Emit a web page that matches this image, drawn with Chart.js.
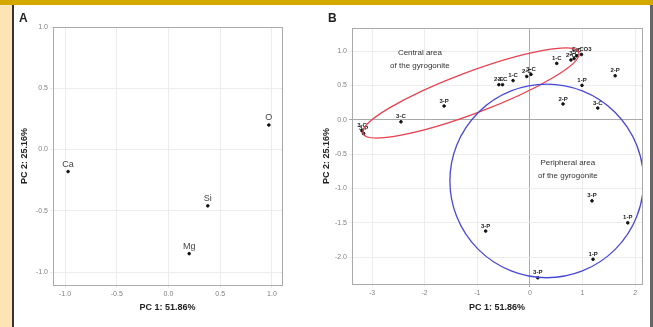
<!DOCTYPE html>
<html>
<head>
<meta charset="utf-8">
<script src="https://cdn.jsdelivr.net/npm/chart.js@4"></script>
<style>
  body { margin: 0; width: 653px; height: 327px; background: #fff; overflow: hidden; position: relative; font-family: "Liberation Sans", Arial, sans-serif; }
  #topbar { position: absolute; left: 0; top: 0; width: 653px; height: 5px; background: #d5a800; }
  #leftbar { position: absolute; left: 0; top: 5px; width: 12px; height: 322px; background: #fde4b4; }
  #leftline { position: absolute; left: 12px; top: 5px; width: 2px; height: 322px; background: #333; }
  #rightline { position: absolute; left: 650px; top: 5px; width: 3px; height: 322px; background: #666; }
  .panel { position: absolute; top: 6px; height: 321px; }
  .letter { position: absolute; font-weight: bold; font-size: 12px; color: #222; }
</style>
</head>
<body>
<div id="topbar"></div>
<div id="leftbar"></div>
<div id="leftline"></div>
<div id="rightline"></div>
<div class="panel" style="left:14px;width:306px;"><canvas id="chartA" width="306" height="321"></canvas></div>
<div class="panel" style="left:320px;width:330px;"><canvas id="chartB" width="330" height="321"></canvas></div>
<div class="letter" style="left:19px;top:11px;">A</div>
<div class="letter" style="left:328px;top:11px;">B</div>
<script>
// パネルA: 元素のローディング
var labelsA = ['O', 'Ca', 'Si', 'Mg'];
var pc1A = [0.97, -0.97, 0.38, 0.20];
var pc2A = [0.20, -0.18, -0.46, -0.85];

// パネルB: サンプルのスコア
var labelsB = ['3-P', '3-C', '3-C', '3-P', '2-C', '3-C', '1-C', '2-C', '3-C', '1-C', '2-C', '3-C', '1-C', 'CaCO3',
               '2-P', '1-P', '2-P', '3-C', '3-P', '1-P', '3-P', '1-P', '3-P'];
var pc1B = [-3.16, -3.19, -2.45, -1.63, -0.59, -0.52, -0.32, -0.06, 0.02, 0.51, 0.78, 0.84, 0.89, 0.98,
            1.62, 0.99, 0.63, 1.29, 1.18, 1.86, -0.84, 1.20, 0.15];
var pc2B = [-0.20, -0.16, -0.03, 0.20, 0.51, 0.51, 0.57, 0.63, 0.66, 0.82, 0.87, 0.89, 0.93, 0.95,
            0.64, 0.50, 0.23, 0.17, -1.18, -1.50, -1.62, -2.03, -2.30];

// 楕円 (中心, 長軸の端, 短軸/長軸比)
var centralArea = { center: [-1.12, 0.39], end: [0.93, 0.98], ratio: 0.18, color: '#e8404e' };
var peripheralArea = { center: [0.32, -0.89], end: [2.16, -0.89], ratio: 1.0, color: '#4848d8' };

var areaTextsB = [
    { x: -2.09, y: 0.98, text: 'Central area' },
    { x: -2.09, y: 0.79, text: 'of the gyrogonite' },
    { x: 0.72, y: -0.63, text: 'Peripheral area' },
    { x: 0.72, y: -0.82, text: 'of the gyrogonite' }
];

function toPoints(xs, ys) {
    return xs.map(function (x, i) { return { x: x, y: ys[i] }; });
}

// ラベルを点の上に書くプラグイン
var pointLabels = {
    id: 'pointLabels',
    afterDatasetsDraw: function (chart, args, opts) {
        var ctx = chart.ctx;
        var labels = chart.data.datasets[0].pointLabels;
        ctx.save();
        ctx.font = opts.font;
        ctx.fillStyle = opts.color;
        ctx.textAlign = 'center';
        ctx.textBaseline = 'bottom';
        chart.getDatasetMeta(0).data.forEach(function (p, i) {
            ctx.fillText(labels[i], p.x, p.y - opts.offset);
        });
        ctx.restore();
    }
};

// プロット領域の枠
var frame = {
    id: 'frame',
    beforeDatasetsDraw: function (chart) {
        var a = chart.chartArea, ctx = chart.ctx;
        ctx.save();
        ctx.strokeStyle = '#aaa';
        ctx.lineWidth = 1;
        ctx.strokeRect(Math.round(a.left) + 0.5, Math.round(a.top) + 0.5, Math.round(a.right - a.left), Math.round(a.bottom - a.top));
        ctx.restore();
    }
};

// 楕円と説明文
var areas = {
    id: 'areas',
    afterDatasetsDraw: function (chart, args, opts) {
        if (!opts.ellipses) return;
        var ctx = chart.ctx, xs = chart.scales.x, ys = chart.scales.y, a = chart.chartArea;
        ctx.save();
        ctx.beginPath();
        ctx.rect(a.left, a.top, a.right - a.left, a.bottom - a.top);
        ctx.clip();
        opts.ellipses.forEach(function (e) {
            var cx = xs.getPixelForValue(e.center[0]), cy = ys.getPixelForValue(e.center[1]);
            var ex = xs.getPixelForValue(e.end[0]), ey = ys.getPixelForValue(e.end[1]);
            var r = Math.hypot(ex - cx, ey - cy);
            ctx.beginPath();
            ctx.ellipse(cx, cy, r, r * e.ratio, Math.atan2(ey - cy, ex - cx), 0, Math.PI * 2);
            ctx.strokeStyle = e.color;
            ctx.lineWidth = 1.3;
            ctx.stroke();
        });
        ctx.font = '8px "Liberation Sans", Arial';
        ctx.fillStyle = '#333';
        ctx.textAlign = 'center';
        ctx.textBaseline = 'middle';
        opts.texts.forEach(function (t) {
            ctx.fillText(t.text, xs.getPixelForValue(t.x), ys.getPixelForValue(t.y));
        });
        ctx.restore();
    }
};

function axis(min, max, step, decimals, title, size, zeroLine, titlePad) {
    var horizontal = size.h !== undefined;
    return {
        type: 'linear',
        min: min,
        max: max,
        border: { color: '#aaa', width: 1 },
        grid: {
            color: function (c) { return zeroLine && c.tick && c.tick.value === 0 ? '#aaa' : '#ececec'; },
            tickLength: 3
        },
        ticks: {
            stepSize: step,
            includeBounds: false,
            padding: 2,
            color: '#808080',
            font: { size: 7, family: '"Liberation Sans", Arial' },
            maxRotation: 0,
            callback: function (v) { return v.toFixed(decimals); }
        },
        title: {
            display: true,
            text: title,
            color: '#222',
            padding: titlePad,
            font: { size: 9, weight: 'bold', family: '"Liberation Sans", Arial' }
        },
        afterFit: function (s) {
            if (horizontal) s.height = size.h; else s.width = size.w;
        }
    };
}

function makeChart(id, data, labels, xAx, yAx, pad, labelOpts, areaOpts) {
    return new Chart(document.getElementById(id), {
        type: 'scatter',
        data: {
            datasets: [{
                data: data,
                pointLabels: labels,
                backgroundColor: '#111',
                borderColor: '#111',
                pointRadius: 1.3,
                pointHoverRadius: 1.3
            }]
        },
        options: {
            responsive: false,
            animation: false,
            layout: { padding: pad },
            scales: { x: xAx, y: yAx },
            plugins: {
                legend: { display: false },
                tooltip: { enabled: false },
                pointLabels: labelOpts,
                areas: areaOpts
            }
        },
        plugins: [frame, pointLabels, areas]
    });
}

makeChart('chartA', toPoints(pc1A, pc2A), labelsA,
    axis(-1.116, 1.097, 0.5, 1, 'PC 1: 51.86%', { h: 28 }, false, 0),
    axis(-1.106, 1.0, 0.5, 1, 'PC 2: 25.16%', { w: 39 }, false, 5),
    { left: 0, top: 21, right: 38, bottom: 14 },
    { font: '9px "Liberation Sans", Arial', color: '#444', offset: 3 },
    {});

makeChart('chartB', toPoints(pc1B, pc2B), labelsB,
    axis(-3.38, 2.13, 1, 0, 'PC 1: 51.86%', { h: 29 }, true, 0),
    axis(-2.39, 1.335, 0.5, 1, 'PC 2: 25.16%', { w: 32 }, true, 1),
    { left: 0, top: 22, right: 8, bottom: 14 },
    { font: 'bold 6px "Liberation Sans", Arial', color: '#222', offset: 2 },
    { ellipses: [centralArea, peripheralArea], texts: areaTextsB });
</script>
</body>
</html>
